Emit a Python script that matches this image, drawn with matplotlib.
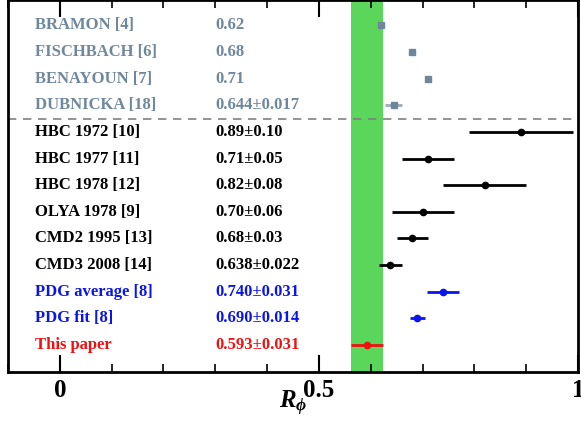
import matplotlib
matplotlib.use("Agg")
import matplotlib.pyplot as plt
from matplotlib.ticker import MultipleLocator

plt.rcParams["font.family"] = ["Liberation Serif", "DejaVu Serif"]
plt.rcParams["font.weight"] = "bold"
plt.rcParams["mathtext.fontset"] = "custom"
plt.rcParams["mathtext.rm"] = "Liberation Serif:bold"
plt.rcParams["mathtext.it"] = "Liberation Serif:bold:italic"
plt.rcParams["mathtext.bf"] = "Liberation Serif:bold"

# measurements, top to bottom
labels = ["BRAMON [4]", "FISCHBACH [6]", "BENAYOUN [7]", "DUBNICKA [18]",
          "HBC 1972 [10]", "HBC 1977 [11]", "HBC 1978 [12]", "OLYA 1978 [9]",
          "CMD2 1995 [13]", "CMD3 2008 [14]", "PDG average [8]", "PDG fit [8]",
          "This paper"]
value_text = ["0.62", "0.68", "0.71", "0.644\u00b10.017",
              "0.89\u00b10.10", "0.71\u00b10.05", "0.82\u00b10.08", "0.70\u00b10.06",
              "0.68\u00b10.03", "0.638\u00b10.022", "0.740\u00b10.031", "0.690\u00b10.014",
              "0.593\u00b10.031"]
values = [0.62, 0.68, 0.71, 0.644, 0.89, 0.71, 0.82, 0.70, 0.68, 0.638, 0.740, 0.690, 0.593]
errors = [0.0, 0.0, 0.0, 0.017, 0.10, 0.05, 0.08, 0.06, 0.03, 0.022, 0.031, 0.014, 0.031]
groups = ["theory"] * 4 + ["exp"] * 6 + ["pdg"] * 2 + ["this"]

this_value = 0.593
this_error = 0.031

grey = "#6f879d"
styles = {
    "theory": dict(color=grey, ecolor="#9aabb9", marker="s", ms=5),
    "exp": dict(color="black", ecolor="black", marker="o", ms=4.5),
    "pdg": dict(color="#0a14ee", ecolor="#0a14ee", marker="o", ms=4.5),
    "this": dict(color="#f01010", ecolor="#f01010", marker="o", ms=4.5),
}

fig = plt.figure(figsize=(5.81, 4.26), dpi=100)
ax = fig.add_axes([0.0138, 0.1275, 0.9812, 0.8725])

n = len(labels)
ypos = [n - i for i in range(n)]

ax.axvspan(this_value - this_error, this_value + this_error, color="#5ad65a", lw=0, zorder=0)

for y, lab, vt, v, e, g in zip(ypos, labels, value_text, values, errors, groups):
    st = styles[g]
    ax.errorbar(v, y, xerr=e if e > 0 else None, fmt=st["marker"], color=st["color"],
                ecolor=st["ecolor"], ms=st["ms"], elinewidth=2, capsize=0, zorder=3)
    ax.text(-0.048, y, lab, color=st["color"], fontsize=12, fontweight="bold",
            va="center", ha="left")
    ax.text(0.30, y, vt, color=st["color"], fontsize=12, fontweight="bold",
            va="center", ha="left")

ax.axhline(n - 3.5, color="#808080", lw=1.2, ls=(0, (5, 4)), zorder=1)

ax.set_xlim(-0.1, 1.0)
ax.set_ylim(0.0, n + 0.95)
ax.set_yticks([])
ax.set_xticks([0, 0.5, 1])
ax.set_xticklabels(["0", "0.5", "1"])
ax.xaxis.set_minor_locator(MultipleLocator(0.1))
ax.tick_params(axis="x", which="both", direction="in", top=True, bottom=True,
               labelsize=18, pad=5)
ax.tick_params(axis="x", which="major", length=12, width=1.5)
ax.tick_params(axis="x", which="minor", length=6, width=1.2)
for sp in ax.spines.values():
    sp.set_linewidth(2)

ax.set_xlabel(r"$R_{\phi}$", fontsize=18, labelpad=-9)

fig.savefig("out.png", dpi=100)
